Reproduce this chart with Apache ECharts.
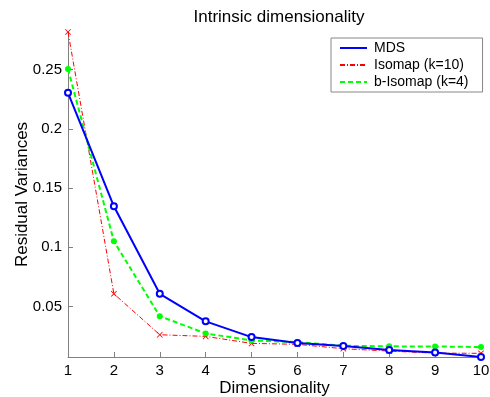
<!DOCTYPE html>
<html>
<head>
<meta charset="utf-8">
<script src="https://cdn.jsdelivr.net/npm/echarts@6/dist/echarts.min.js"></script>
<style>
  html, body { margin: 0; padding: 0; background: #fff; }
  #chart { width: 490px; height: 397px; }
</style>
</head>
<body>
<div id="chart"></div>
<script>
// values
const dims = [1, 2, 3, 4, 5, 6, 7, 8, 9, 10];
const mds = [0.2304, 0.1346, 0.0607, 0.0374, 0.0241, 0.0191, 0.0165, 0.0132, 0.0110, 0.0073];
const isomap = [0.2818, 0.0607, 0.0261, 0.0247, 0.0188, 0.0180, 0.0143, 0.0123, 0.0106, 0.0104];
const bIsomap = [0.2506, 0.1050, 0.0418, 0.0272, 0.0213, 0.0199, 0.0168, 0.0163, 0.0162, 0.0157];
const yTicks = [0.05, 0.1, 0.15, 0.2, 0.25];

const font = "'Liberation Sans', Arial, sans-serif";
const crossPath = "path://M0,1L1,0L5,4L9,0L10,1L6,5L10,9L9,10L5,6L1,10L0,9L4,5Z";

function pairs(ys) {
  return dims.map((d, i) => [d, ys[i]]);
}

const chart = echarts.init(document.getElementById("chart"));

const option = {
  animation: false,
  backgroundColor: "#fff",
  title: {
    text: "Intrinsic dimensionality",
    left: 274,
    top: 4,
    textAlign: "center",
    textStyle: { fontFamily: font, fontSize: 17, fontWeight: "normal", color: "#000" }
  },
  legend: {
    orient: "vertical",
    left: 331,
    top: 38,
    padding: [3, 14, 3, 8],
    itemWidth: 27,
    itemHeight: 14,
    itemGap: 3,
    backgroundColor: "#fff",
    borderColor: "#888",
    borderWidth: 1,
    borderRadius: 0,
    itemStyle: { opacity: 0 },
    textStyle: { fontFamily: font, fontSize: 14, color: "#000", padding: [0, 0, 0, 2] },
    data: ["MDS", "Isomap (k=10)", "b-Isomap (k=4)"]
  },
  grid: { left: 68, right: 9, top: 32, bottom: 40, outerBoundsMode: "none" },
  xAxis: {
    type: "value",
    min: 1,
    max: 10,
    interval: 1,
    name: "Dimensionality",
    nameLocation: "middle",
    nameGap: 23,
    nameMoveOverlap: false,
    nameTextStyle: { fontFamily: font, fontSize: 17, color: "#000" },
    axisLine: { lineStyle: { color: "#808080", width: 1 } },
    axisTick: { inside: true, length: 5, lineStyle: { color: "#808080" } },
    axisLabel: { fontFamily: font, fontSize: 15, color: "#000", margin: 6 },
    splitLine: { show: false }
  },
  yAxis: {
    type: "value",
    min: 0.0073,
    max: 0.2818,
    name: "Residual Variances",
    nameLocation: "middle",
    nameGap: 37,
    nameMoveOverlap: false,
    nameTextStyle: { fontFamily: font, fontSize: 17, color: "#000" },
    axisLine: { show: true, lineStyle: { color: "#808080", width: 1 } },
    axisTick: { show: true, inside: true, length: 5, customValues: yTicks, lineStyle: { color: "#808080" } },
    axisLabel: { fontFamily: font, fontSize: 15, color: "#000", margin: 6, customValues: yTicks },
    splitLine: { show: false }
  },
  series: [
    {
      name: "MDS",
      type: "line",
      data: pairs(mds),
      symbol: "emptyCircle",
      symbolSize: 6,
      color: "#0000ff",
      lineStyle: { width: 2, color: "#0000ff", type: "solid" },
      itemStyle: { color: "#0000ff", borderColor: "#0000ff", borderWidth: 1.5 },
      z: 3
    },
    {
      name: "Isomap (k=10)",
      type: "line",
      data: pairs(isomap),
      symbol: crossPath,
      symbolSize: 6,
      color: "#ff0000",
      lineStyle: { width: 1, color: "#ff0000", type: [5, 2, 1, 2] },
      itemStyle: { color: "#ff0000" },
      z: 2
    },
    {
      name: "b-Isomap (k=4)",
      type: "line",
      data: pairs(bIsomap),
      symbol: "circle",
      symbolSize: 6,
      color: "#00ff00",
      lineStyle: { width: 2, color: "#00ff00", type: [5, 3] },
      itemStyle: { color: "#00ff00" },
      z: 2
    }
  ]
};

chart.setOption(option);
</script>
</body>
</html>
